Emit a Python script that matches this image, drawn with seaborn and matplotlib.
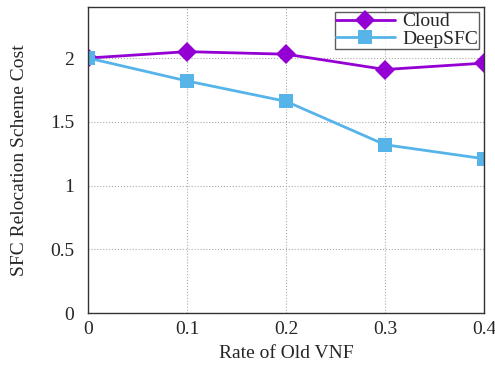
import seaborn as sns
import matplotlib.pyplot as plt
import pandas as pd

rates = [0, 0.1, 0.2, 0.3, 0.4]
cloud = [2.0, 2.05, 2.03, 1.91, 1.96]
deepsfc = [2.0, 1.82, 1.66, 1.32, 1.21]

df = pd.DataFrame({
    'rate': rates * 2,
    'cost': cloud + deepsfc,
    'method': ['Cloud'] * len(rates) + ['DeepSFC'] * len(rates),
})

sns.set_style('ticks')
plt.rcParams['font.family'] = ['Liberation Serif', 'DejaVu Serif']

fig = plt.figure(figsize=(4.95, 3.7), dpi=100)
ax = fig.add_axes([0.178, 0.154, 0.8, 0.827])

sns.lineplot(data=df, x='rate', y='cost', hue='method', style='method',
             palette={'Cloud': '#9400D3', 'DeepSFC': '#56B4E9'},
             markers={'Cloud': 'D', 'DeepSFC': 's'},
             dashes=False, linewidth=2, markersize=10, markeredgewidth=0,
             ax=ax)

ax.set_xlim(0, 0.4)
ax.set_ylim(0, 2.4)
ax.set_xticks([0, 0.1, 0.2, 0.3, 0.4])
ax.set_xticklabels(['0', '0.1', '0.2', '0.3', '0.4'])
ax.set_yticks([0, 0.5, 1, 1.5, 2])
ax.set_yticklabels(['0', '0.5', '1', '1.5', '2'])
ax.tick_params(axis='x', labelsize=14, length=0, pad=6)
ax.tick_params(axis='y', labelsize=14, length=0, pad=10)
ax.grid(True, linestyle=':', color='#aaaaaa', linewidth=0.8)
for s in ax.spines.values():
    s.set_color('#333333')
    s.set_linewidth(1)

ax.set_xlabel('Rate of Old VNF', fontsize=14, labelpad=5)
ax.set_ylabel('SFC Relocation Scheme Cost', fontsize=14, labelpad=16)

leg = ax.legend(loc='upper right', fontsize=14, frameon=True, fancybox=False,
                edgecolor='#333333', borderpad=0.05, handlelength=3,
                handletextpad=0.4, labelspacing=0.0, borderaxespad=0.25)
leg.get_frame().set_linewidth(1)

fig.savefig('out.png', dpi=100)
